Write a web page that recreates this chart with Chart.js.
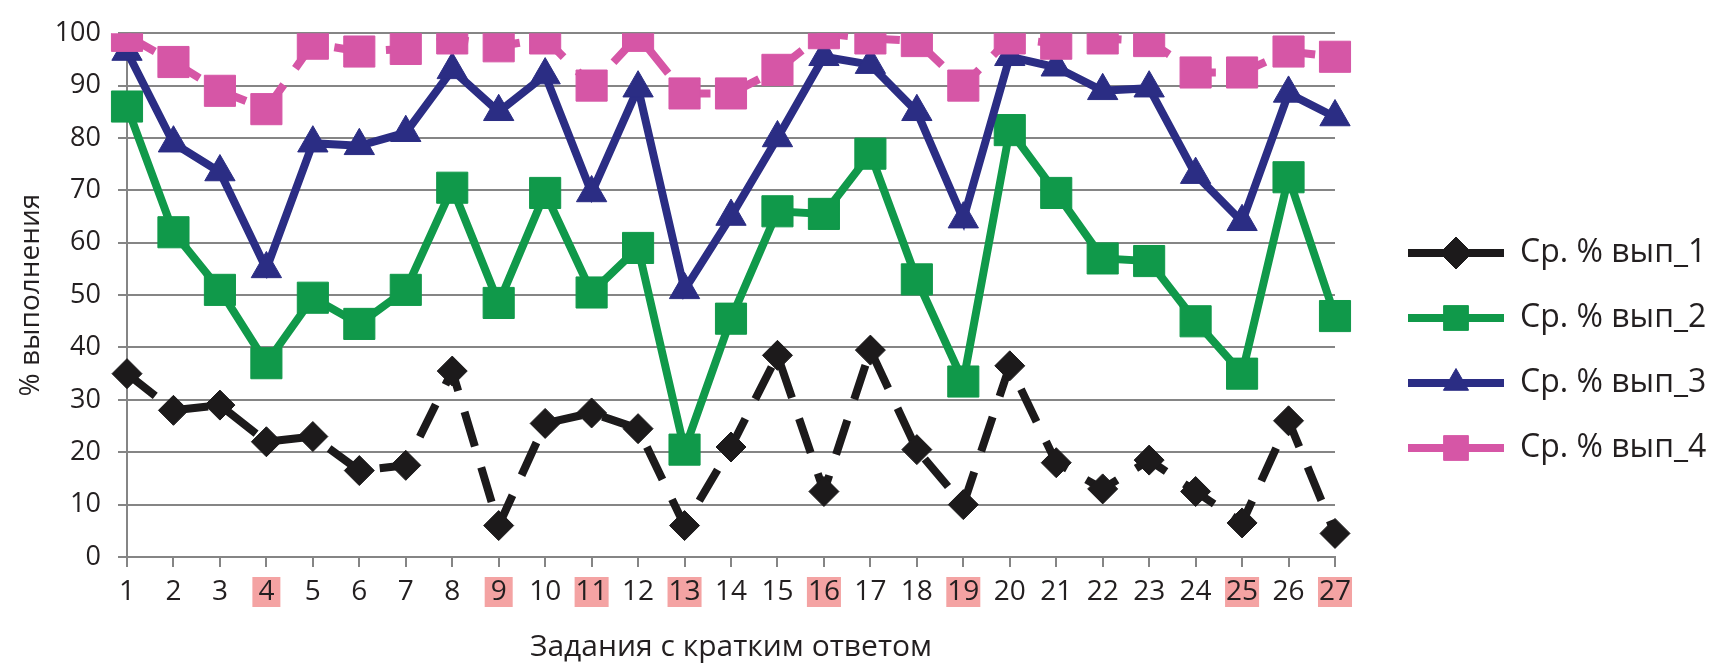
<!DOCTYPE html>
<html>
<head>
<meta charset="utf-8">
<script src="https://cdn.jsdelivr.net/npm/chart.js@4.4.1/dist/chart.umd.min.js"></script>
<style>
  html, body { margin: 0; padding: 0; background: #fff; }
  #wrap { width: 1725px; height: 665px; }
</style>
</head>
<body>
<div id="wrap"><canvas id="myChart" width="1725" height="665"></canvas></div>
<script>
// номера заданий с кратким ответом
const tasks = ['1','2','3','4','5','6','7','8','9','10','11','12','13','14','15','16','17','18','19','20','21','22','23','24','25','26','27'];
const highlighted = ['4','9','11','13','16','19','25','27'];

// средний % выполнения по группам
const vyp1 = [35, 28, 29, 22, 23, 16.5, 17.5, 35.5, 6, 25.5, 27.5, 24.5, 6, 21, 38.5, 12.5, 39.5, 20.5, 10, 36.5, 18, 13, 18.5, 12.5, 6.5, 26, 4.5];
const vyp2 = [86, 62, 51, 37, 49.5, 44.5, 51, 70.5, 48.5, 69.5, 50.5, 59, 20.5, 45.5, 66, 65.5, 77, 53, 33.5, 81.5, 69.5, 57, 56.5, 45, 35, 72.5, 46];
const vyp3 = [96.5, 79, 73.5, 55, 79, 78.5, 81, 93, 85, 92, 69.5, 89.5, 51, 65, 80, 95.5, 94, 85, 64.5, 95.5, 93.5, 89, 89.5, 73, 64, 88.5, 84];
const vyp4 = [99.5, 94.5, 89, 85.5, 98, 96.5, 97, 99, 97.5, 99, 90, 99.5, 88.5, 88.5, 93, 100, 99, 98.5, 90, 99, 98, 99, 98.5, 92.5, 92.5, 96.5, 95.5];

const seriesNames = ['Ср. % вып_1', 'Ср. % вып_2', 'Ср. % вып_3', 'Ср. % вып_4'];

const BLACK = '#1c1a1b';
const GREEN = '#10994a';
const BLUE = '#2b2d84';
const PINK = '#d656a6';
const MARK = '#f4a3a3';
const GRID = '#858585';
const TEXT = '#231f20';
const FONT = "'Open Sans', sans-serif";
const LEGEND_SIZE = 32;
const LEGEND_PAD = 33;
const XTICK_SIZE = 28;

// картинка для легенды: линия с маркером посередине (слева прозрачный отступ)
function legendSample(color, style, r) {
  const c = document.createElement('canvas');
  c.width = 136;
  c.height = 36;
  const g = c.getContext('2d');
  g.strokeStyle = color;
  g.fillStyle = color;
  g.lineWidth = 8;
  g.beginPath();
  g.moveTo(40, 18);
  g.lineTo(136, 18);
  g.stroke();
  g.lineWidth = 1;
  Chart.helpers.drawPoint(g, { pointStyle: style, radius: r, borderWidth: 1, rotation: 0 }, 88, 18);
  return c;
}

const legendImgs = [
  legendSample(BLACK, 'rectRot', 16),
  legendSample(GREEN, 'rect', 17.5),
  legendSample(BLUE, 'triangle', 14.5),
  legendSample(PINK, 'rect', 17.5)
];

// ширина легенды, чтобы область графика кончалась на 27-м задании у x≈1335
const mctx = document.createElement('canvas').getContext('2d');
mctx.font = LEGEND_SIZE + "px 'Open Sans', sans-serif";
const textW = Math.max(...seriesNames.map(s => mctx.measureText(s).width));
const legendW = LEGEND_PAD + 136 + LEGEND_SIZE / 2 + textW + 10;
const padRight = Math.max(0, 1725 - 1335 - legendW);

// розовая подложка под номерами выделенных заданий
const markTicks = {
  id: 'markTicks',
  beforeDraw(chart) {
    const x = chart.scales.x;
    const ctx = chart.ctx;
    const top = x.top + 10 + 10;
    ctx.save();
    ctx.font = XTICK_SIZE + "px 'Open Sans', sans-serif";
    ctx.fillStyle = MARK;
    tasks.forEach((t, i) => {
      if (!highlighted.includes(t)) return;
      const w = Math.max(ctx.measureText(t).width + 2, 28);
      const px = x.getPixelForTick(i);
      ctx.fillRect(px - w / 2, top, w, 30);
    });
    ctx.restore();
  }
};

function line(label, values, color, style, radius, dash, order) {
  return {
    label: label,
    data: values,
    borderColor: color,
    backgroundColor: color,
    borderWidth: 8,
    borderDash: dash,
    borderCapStyle: 'butt',
    pointStyle: style,
    pointRadius: radius,
    pointHoverRadius: radius,
    pointBackgroundColor: color,
    pointBorderColor: color,
    pointBorderWidth: 1,
    tension: 0,
    order: order
  };
}

const data = {
  labels: tasks,
  datasets: [
    line(seriesNames[0], vyp1, BLACK, 'rectRot', 15, [36, 22], 4),
    line(seriesNames[1], vyp2, GREEN, 'rect', 22, [], 3),
    line(seriesNames[2], vyp3, BLUE, 'triangle', 17.5, [], 2),
    line(seriesNames[3], vyp4, PINK, 'rect', 22, [32, 20], 1)
  ]
};

const config = {
  type: 'line',
  data: data,
  plugins: [markTicks],
  options: {
    responsive: false,
    animation: false,
    layout: { padding: { top: 25, right: padRight, bottom: 0, left: 0 } },
    scales: {
      x: {
        offset: false,
        afterFit: s => { s.height = 108; },
        grid: { drawOnChartArea: false, drawTicks: true, tickLength: 10, color: GRID, lineWidth: 2 },
        border: { display: true, color: GRID, width: 2 },
        ticks: {
          color: TEXT,
          font: { family: FONT, size: XTICK_SIZE, lineHeight: 30 / XTICK_SIZE },
          padding: 10,
          maxRotation: 0,
          autoSkip: false
        },
        title: {
          display: true,
          text: 'Задания с кратким ответом',
          color: TEXT,
          font: { family: FONT, size: 30, lineHeight: 1 },
          padding: { top: 0, bottom: 3 }
        }
      },
      y: {
        min: 0,
        max: 100,
        afterFit: s => { s.width = 127; },
        grid: { color: GRID, lineWidth: 2, drawTicks: true, tickLength: 9 },
        border: { display: true, color: GRID, width: 2 },
        ticks: {
          stepSize: 10,
          color: TEXT,
          font: { family: FONT, size: 27 },
          padding: 17
        },
        title: {
          display: true,
          text: '% выполнения',
          color: TEXT,
          font: { family: FONT, size: 28, lineHeight: 1.2 },
          padding: { top: 14, bottom: 0 }
        }
      }
    },
    plugins: {
      tooltip: { enabled: false },
      legend: {
        position: 'right',
        title: { display: true, text: ' ', font: { size: 11, lineHeight: 1 }, padding: 0 },
        labels: {
          usePointStyle: true,
          pointStyleWidth: 136,
          padding: LEGEND_PAD,
          color: TEXT,
          font: { family: FONT, size: LEGEND_SIZE },
          generateLabels: chart => chart.data.datasets.map((ds, i) => ({
            text: ds.label,
            pointStyle: legendImgs[i],
            fillStyle: ds.borderColor,
            strokeStyle: ds.borderColor,
            lineWidth: 0,
            fontColor: TEXT,
            hidden: false,
            datasetIndex: i
          }))
        }
      }
    }
  }
};

const myChart = new Chart(document.getElementById('myChart'), config);
</script>
</body>
</html>
